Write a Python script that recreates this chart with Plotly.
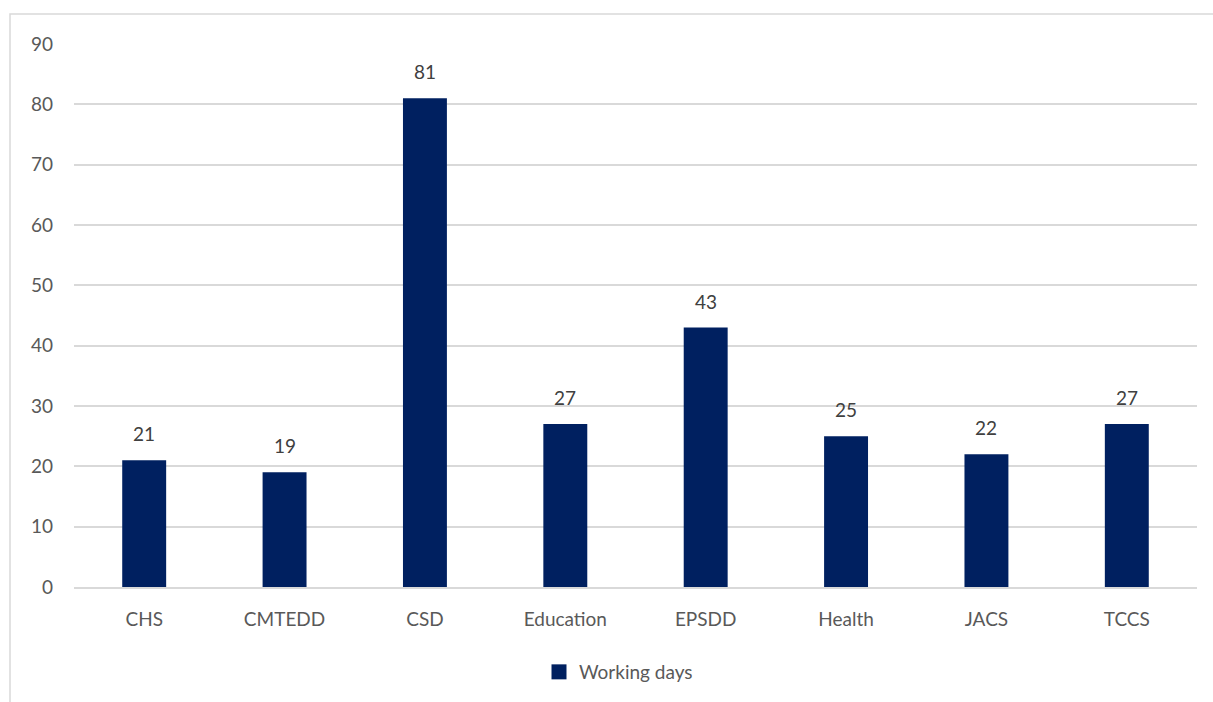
import plotly.graph_objects as go

categories = ["CHS", "CMTEDD", "CSD", "Education", "EPSDD", "Health", "JACS", "TCCS"]
working_days = [21, 19, 81, 27, 43, 25, 22, 27]
y_ticks = [0, 10, 20, 30, 40, 50, 60, 70, 80, 90]

W, H = 1213, 702
L, R, T, B = 74, 16, 44, 114
pw, ph = W - L - R, H - T - B
BAR = "#002060"
FONT = "Lato, Open Sans, sans-serif"

fig = go.Figure()
fig.add_trace(go.Bar(
    x=categories, y=working_days, name="Working days",
    marker=dict(color=BAR, line=dict(width=0)), showlegend=False,
))
fig.add_trace(go.Scatter(
    x=[categories[0]], y=[None], mode="markers", name="Working days",
    marker=dict(symbol="square", size=15, color=BAR), showlegend=True,
))

annotations = [
    dict(x=c, y=v, xref="x", yref="y", text=str(v), showarrow=False,
         yanchor="bottom", yshift=13, font=dict(family=FONT, size=19, color="#404040"))
    for c, v in zip(categories, working_days)
]

fig.update_layout(
    width=W, height=H,
    margin=dict(l=L, r=R, t=T, b=B),
    paper_bgcolor="white", plot_bgcolor="white",
    font=dict(family=FONT, size=19, color="#595959"),
    bargap=0.687,
    showlegend=True,
    legend=dict(orientation="h", x=0.5 - 17 / pw, xanchor="center", y=(588 - 672) / ph, yanchor="middle",
                font=dict(size=19, color="#595959"), itemwidth=30),
    xaxis=dict(showgrid=False, showline=True, linecolor="#d9d9d9", linewidth=1.5,
               ticks="", tickfont=dict(size=19, color="#595959"), ticklabelstandoff=14),
    yaxis=dict(range=[0, 90], tickvals=y_ticks, showgrid=True, gridcolor="#d9d9d9", gridwidth=1.5,
               zeroline=False, showline=False, ticks="", ticklabelstandoff=20,
               tickfont=dict(size=19, color="#595959")),
    annotations=annotations,
    shapes=[dict(type="rect", xref="paper", yref="paper",
                 x0=(10 - L) / pw, x1=(W + 20 - L) / pw,
                 y0=(588 - 720) / ph, y1=(588 - 14) / ph,
                 line=dict(color="#d9d9d9", width=1.5), layer="below")],
)

fig.write_html("out.html")
